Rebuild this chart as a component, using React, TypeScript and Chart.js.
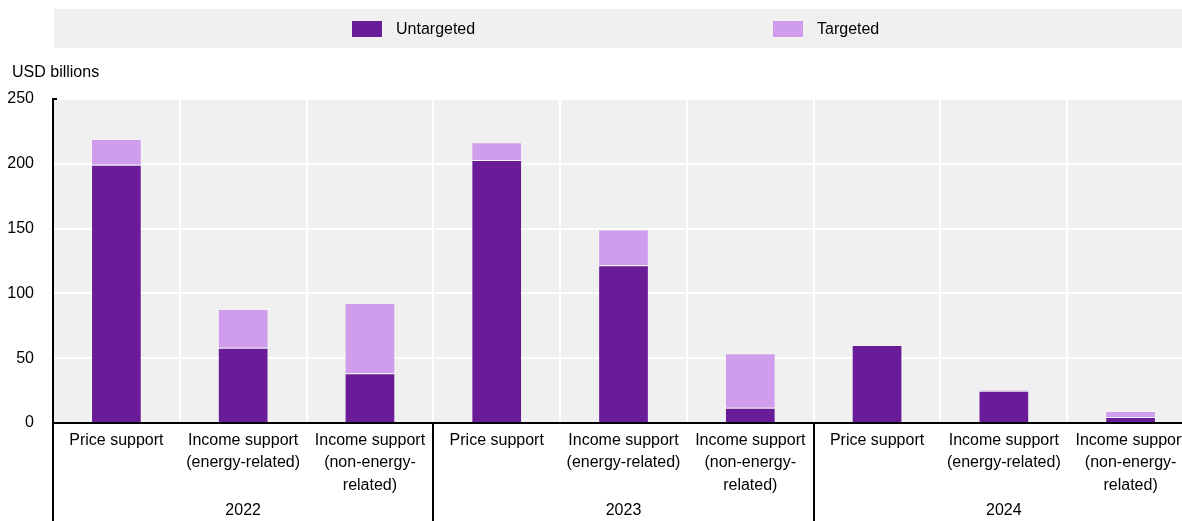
import React, { useEffect, useRef } from "react";
import { Chart, registerables } from "chart.js";

Chart.register(...registerables);

const years = ["2022", "2023", "2024"];
const supportTypes: string[][] = [
  ["Price support"],
  ["Income support", "(energy-related)"],
  ["Income support", "(non-energy-", "related)"],
];
const categoryLabels: string[][] = years.flatMap(() => supportTypes);

const untargeted = [199.3, 58.1, 38.3, 202.9, 121.7, 11.8, 60.2, 24.8, 4.6];
const targeted = [19.8, 29.9, 54.3, 13.7, 27.7, 42.0, 0, 0.9, 4.7];

const yTicks = [0, 50, 100, 150, 200, 250];
const yTitle = "USD billions";
const seriesNames = ["Untargeted", "Targeted"];

const COL_UNT = "#6A1C98";
const COL_TGT = "#D09CEC";
const FONT = 'Arial, "Liberation Sans", sans-serif';

const W = 1200;
const H = 521;

const decorPlugin = {
  id: "decor",
  beforeDraw(chart: any) {
    const { ctx, chartArea } = chart;
    ctx.save();
    ctx.fillStyle = "#f0f0f0";
    ctx.fillRect(chartArea.left, chartArea.top, chartArea.right - chartArea.left, chartArea.bottom - chartArea.top);
    ctx.fillRect(54, 9, W - 54, 39);
    const items = [
      { x: 352, color: chart.data.datasets[0].backgroundColor, label: chart.data.datasets[0].label },
      { x: 773, color: chart.data.datasets[1].backgroundColor, label: chart.data.datasets[1].label },
    ];
    ctx.font = `16px ${FONT}`;
    ctx.textBaseline = "middle";
    ctx.textAlign = "left";
    for (const it of items) {
      ctx.fillStyle = it.color;
      ctx.fillRect(it.x, 21, 30, 16);
      ctx.fillStyle = "#000";
      ctx.fillText(it.label, it.x + 44, 30);
    }
    ctx.fillText(yTitle, 12, 73);
    ctx.restore();
  },
  afterDraw(chart: any) {
    const { ctx, chartArea } = chart;
    const xs = chart.scales.x;
    ctx.save();
    ctx.strokeStyle = "#000";
    ctx.lineWidth = 2;
    const seps = [chartArea.left];
    for (let g = 0; g < years.length - 1; g++) {
      seps.push((xs.getPixelForValue(3 * g + 2) + xs.getPixelForValue(3 * g + 3)) / 2);
    }
    for (const sx of seps) {
      const px = Math.round(sx);
      ctx.beginPath();
      ctx.moveTo(px, chartArea.bottom);
      ctx.lineTo(px, H);
      ctx.stroke();
    }
    ctx.beginPath();
    ctx.moveTo(chartArea.left, chartArea.top);
    ctx.lineTo(chartArea.left + 4, chartArea.top);
    ctx.stroke();
    ctx.fillStyle = "#000";
    ctx.font = `16px ${FONT}`;
    ctx.textAlign = "center";
    ctx.textBaseline = "middle";
    years.forEach((y, g) => {
      ctx.fillText(y, xs.getPixelForValue(3 * g + 1), 511);
    });
    ctx.restore();
  },
};

export default function App() {
  const ref = useRef<HTMLCanvasElement | null>(null);
  useEffect(() => {
    document.body.style.margin = "0";
    const canvas = ref.current;
    if (!canvas) return;
    const chart = new Chart(canvas, {
      type: "bar",
      data: {
        labels: categoryLabels as any,
        datasets: [
          {
            label: seriesNames[0],
            data: untargeted,
            backgroundColor: COL_UNT,
            borderColor: "rgba(255,255,255,0.18)",
            borderWidth: 1,
            barPercentage: 0.4,
            categoryPercentage: 1,
          },
          {
            label: seriesNames[1],
            data: targeted,
            backgroundColor: COL_TGT,
            borderColor: "rgba(255,255,255,0.3)",
            borderWidth: 1,
            barPercentage: 0.4,
            categoryPercentage: 1,
          },
        ],
      },
      options: {
        responsive: false,
        animation: false,
        devicePixelRatio: 1,
        layout: { padding: { top: 99, right: 6, bottom: 0, left: 0 } },
        plugins: {
          legend: { display: false },
          tooltip: { enabled: false },
          title: { display: false },
        },
        scales: {
          x: {
            stacked: true,
            afterFit: (s: any) => {
              s.height = 98;
            },
            grid: {
              color: "#ffffff",
              lineWidth: 2,
              drawTicks: false,
              offset: true,
            },
            border: { display: true, color: "#000", width: 2, z: 1 },
            ticks: {
              autoSkip: false,
              maxRotation: 0,
              minRotation: 0,
              padding: 6,
              color: "#000",
              font: { family: FONT, size: 16, lineHeight: 1.40625 },
            },
          },
          y: {
            stacked: true,
            min: yTicks[0],
            max: yTicks[yTicks.length - 1],
            afterFit: (s: any) => {
              s.width = 53;
            },
            afterBuildTicks: (s: any) => {
              s.ticks = yTicks.map((v) => ({ value: v }));
            },
            grid: {
              color: (c: any) => (c.tick && c.tick.value === 0 ? "rgba(0,0,0,0)" : "#ffffff"),
              lineWidth: 2,
              drawTicks: false,
            },
            border: { display: true, color: "#000", width: 2, z: 1 },
            ticks: {
              padding: 19,
              color: "#000",
              font: { family: FONT, size: 16 },
            },
          },
        },
      },
      plugins: [decorPlugin],
    } as any);
    return () => chart.destroy();
  }, []);
  return (
    <div style={{ width: 1182, height: H, overflow: "hidden", position: "relative" }}>
      <canvas ref={ref} width={W} height={H} style={{ width: W, height: H, display: "block" }} />
    </div>
  );
}
